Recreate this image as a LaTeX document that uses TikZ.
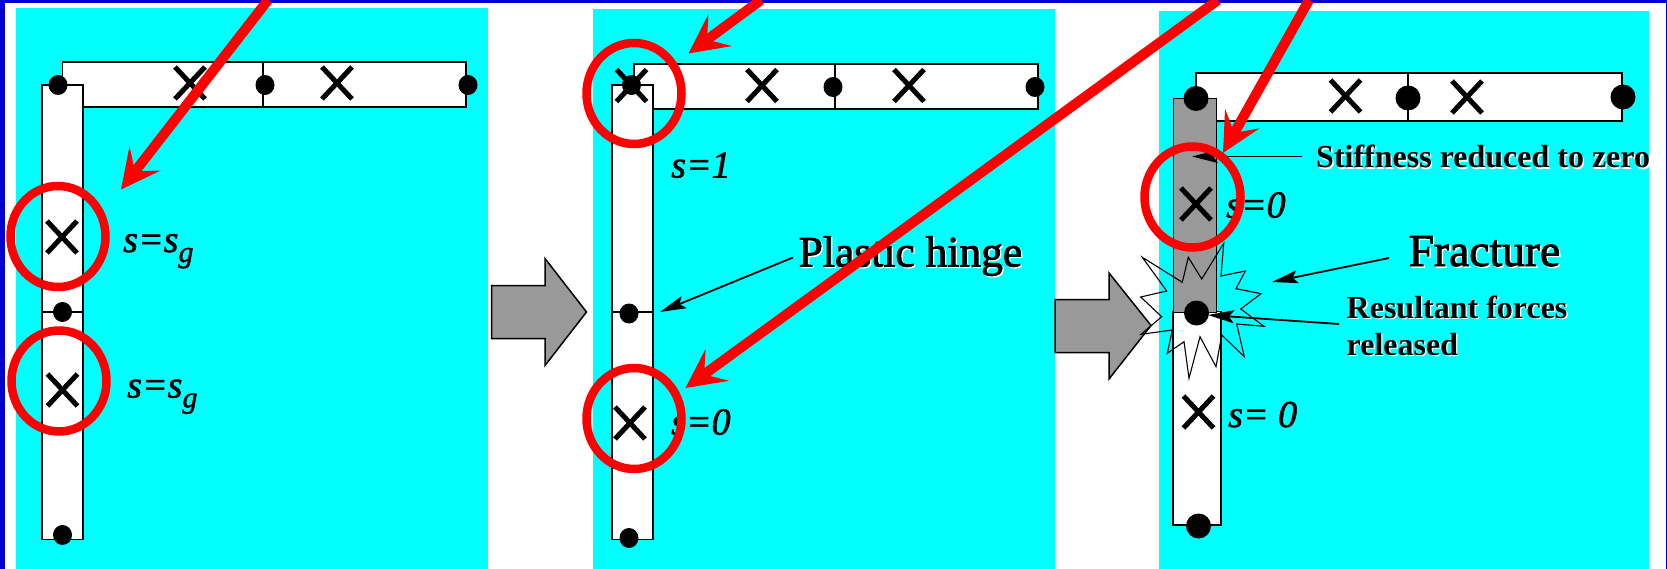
\documentclass[tikz,border=0pt]{standalone}
\usepackage{fontspec}
\setmainfont{Liberation Serif}
\newfontfamily\heavyroman[FakeBold=2]{Liberation Serif}
\newfontfamily\heavyital[FakeBold=1.5]{Liberation Serif Italic}
\usetikzlibrary{arrows.meta}
\definecolor{framecol}{RGB}{0,0,204}
\definecolor{fillgrey}{RGB}{153,153,153}
\definecolor{panelcyan}{RGB}{0,255,255}
\newcommand{\shadetxt}[1]{\leavevmode\rlap{\kern1.3pt\raisebox{-1.3pt}{\textcolor{white}{#1}}}#1}
\newcommand{\subg}{\raisebox{-10pt}{\fontsize{30}{30}\selectfont g}}
\newcommand{\gpcross}[2]{%
    \draw[crossline] (#1-15,#2-16)--(#1+15,#2+16);
    \draw[crossline] (#1-15,#2+16)--(#1+15,#2-16);}
\tikzset{
    memberline/.style={draw=black, line width=1.6pt, fill=white},
    crossline/.style={black, line width=5pt},
    hingeline/.style={black, line width=2.8pt},
    bigarrow/.style={draw=black, line width=1.5pt, fill=fillgrey},
    redring/.style={red, line width=8.5pt},
    redarrow/.style={red, line width=10pt, -{Stealth[length=39pt,width=39pt,inset=16pt]}},
    thinarrow/.style={black, line width=1.8pt, -{Stealth[length=26pt,width=13pt,inset=5pt]}},
    txt/.style={anchor=base west, inner sep=0pt},
    slabel/.style={txt, font=\fontsize{38}{40}\selectfont\heavyital},
    biglabel/.style={txt, font=\fontsize{43.5}{46}\selectfont\heavyroman},
    boldlabel/.style={txt, font=\fontsize{32}{36}\selectfont\bfseries}
}
\begin{document}
\begin{tikzpicture}[x=1pt,y=-1pt]
\useasboundingbox (0,0) rectangle (1667,569);
\fill[white] (0,0) rectangle (1667,569);
% frame
\fill[framecol] (0,0) rectangle (1667,3);
\fill[framecol] (0,0) rectangle (5,569);
\fill[framecol] (1665.7,0) rectangle (1667,569);
% panels
\fill[panelcyan] (16,8) rectangle (488,569);
\fill[panelcyan] (593,9) rectangle (1055,569);
\fill[panelcyan] (1159,11) rectangle (1649,569);
% arrows between the panels
\draw[bigarrow] (491.5,285.5)--(545,285.5)--(545,258.5)--(586.5,312)--(545,365.5)--(545,338.5)--(491.5,338.5)--cycle;
\draw[bigarrow] (1055,299.5)--(1109,299.5)--(1109,273)--(1151,325.5)--(1109,379)--(1109,352.5)--(1055,352.5)--cycle;
% frame 1
\draw[memberline] (62.5,62) rectangle (466,107);
\draw[black, line width=1.6pt] (263,62)--(263,107);
\draw[memberline] (42,85) rectangle (83,539.5);
\draw[hingeline] (42,312)--(83,312);
\gpcross{190}{83}
\gpcross{337}{83}
\gpcross{62}{237}
\gpcross{62.5}{390}
\foreach \x/\y in {58/85,265/85,468/85,62.5/312,62.5/535}
    \fill (\x,\y) ellipse (9.5 and 10);
\node[slabel] (sgA) at (123,252) {s=s\subg};
\node[slabel] (sgB) at (127,397.5) {s=s\subg};
% frame 2
\draw[memberline] (634,64) rectangle (1038,109);
\draw[black, line width=1.6pt] (835,64)--(835,109);
\draw[memberline] (612,85) rectangle (653,539.5);
\draw[hingeline] (612,312)--(653,312);
\gpcross{631.5}{85.5}
\gpcross{762}{85.5}
\gpcross{909}{85.5}
\gpcross{630}{423}
\foreach \x/\y in {631.5/85,833/87,1035/87,629/313.5,629/538}
    \fill (\x,\y) ellipse (9.5 and 10);
\node[slabel] (sOne) at (671,177.5) {s=1};
\node[slabel] (sZeroA) at (671,434.5) {s=0};
\node[biglabel] (hingeLabel) at (798.5,266.5) {\shadetxt{Plastic hinge}};
\coordinate (hingeTip) at (660,312);
\coordinate (hingeFrom) at (793,257.5);
\draw[thinarrow] (hingeFrom)--(hingeTip);
% frame 3
\draw[memberline] (1196,73) rectangle (1622,121);
\draw[black, line width=1.6pt] (1408,73)--(1408,121);
\draw[memberline] (1173,311.5) rectangle (1221,525);
\draw[memberline, fill=fillgrey] (1173.5,98.5) rectangle (1216.5,312.5);
\gpcross{1345.5}{96}
\gpcross{1467}{97}
\gpcross{1196}{204}
\gpcross{1198.5}{412}
\foreach \x/\y in {1196/98.5,1408/98,1623/97,1196.5/313,1198.5/526}
    \fill (\x,\y) ellipse (12.5 and 12.5);
\node[slabel] (sZeroB) at (1226,217.5) {s=0};
\node[slabel] (sZeroC) at (1228,427) {s= 0};
\node[boldlabel] (stiffLabel) at (1316,168) {\shadetxt{Stiffness reduced to zero}};
\node[biglabel, font=\fontsize{45.5}{48}\selectfont\heavyroman] (fractureLabel) at (1408.5,266) {\shadetxt{Fracture}};
\node[boldlabel] (forcesLabelA) at (1346.5,318.5) {\shadetxt{Resultant forces}};
\node[boldlabel] (forcesLabelB) at (1346.5,355.5) {\shadetxt{released}};
% burst round the hinge
\draw[black, line width=1.1pt]
    (1142.3,257.3)--(1166.7,291)--(1140.7,297)--(1161.7,316.7)--(1141,334.3)--(1172.3,330)
    --(1167.3,353.3)--(1184,341.7)--(1189,378.3)--(1200,336.7)--(1216,366.7)--(1221.7,335)
    --(1244.3,356.7)--(1236.7,324)--(1264,326.3)--(1240.7,309)--(1261,293.7)--(1236,288.7)
    --(1245.3,271)--(1221,276)--(1223.7,243.3)--(1201.7,279)--(1188.3,257.3)--(1182.3,282.3)--cycle;
\coordinate (stiffFrom) at (1302,156.5);
\coordinate (stiffTip) at (1192,156.5);
\coordinate (fractureFrom) at (1389,258);
\coordinate (fractureTip) at (1272,282);
\coordinate (forcesFrom) at (1339,324);
\coordinate (forcesTip) at (1208,315);
\draw[thinarrow] (stiffFrom)--(stiffTip);
\draw[thinarrow] (fractureFrom)--(fractureTip);
\draw[thinarrow] (forcesFrom)--(forcesTip);
% red rings and arrows on top
\draw[redring] (58,236.5) ellipse (47.5 and 50.5);
\draw[redring] (59,381) ellipse (47.5 and 50.5);
\draw[redring] (634,93.5) ellipse (47.5 and 50.5);
\draw[redring] (634,418.5) ellipse (47.5 and 50.5);
\draw[redring] (1192.5,197) ellipse (48 and 50.5);
\coordinate (redA) at (268,0);
\coordinate (redATip) at (121,189.5);
\coordinate (redB) at (761,0);
\coordinate (redBTip) at (688.5,53.5);
\coordinate (redC) at (1218,0);
\coordinate (redCTip) at (685.5,388);
\coordinate (redD) at (1309,0);
\coordinate (redDTip) at (1223,153);
\draw[redarrow] (redA)--(redATip);
\draw[redarrow] (redB)--(redBTip);
\draw[redarrow] (redC)--(redCTip);
\draw[redarrow] (redD)--(redDTip);
\end{tikzpicture}
\end{document}
